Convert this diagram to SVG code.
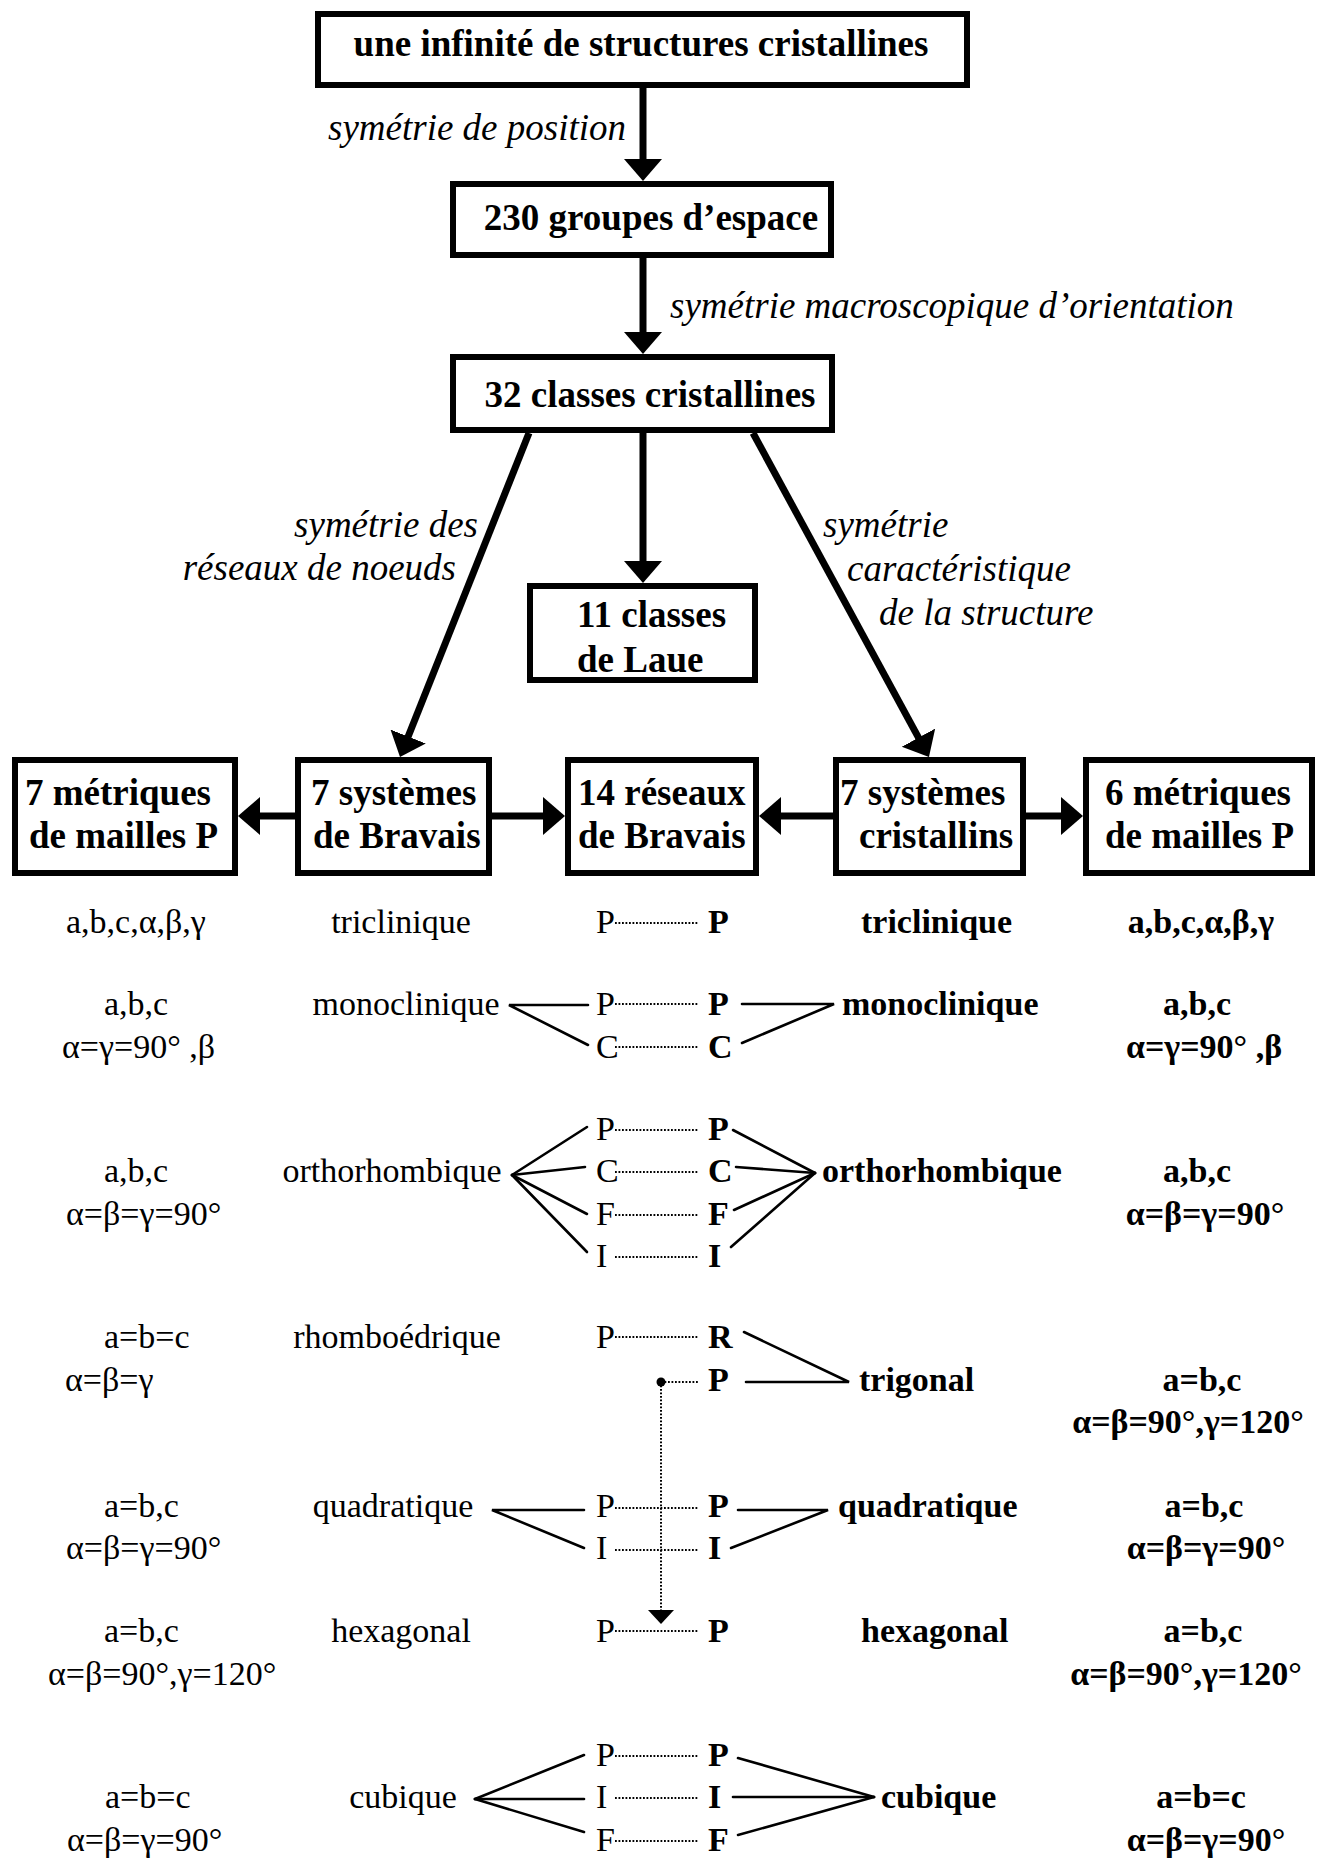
<svg xmlns="http://www.w3.org/2000/svg" width="1318" height="1861" viewBox="0 0 1318 1861">
<style>
text{font-family:"Liberation Serif","Times New Roman",serif;fill:#000}
.bx{fill:#fff;stroke:#000;stroke-width:6}
.bt{font-size:37px;font-weight:bold}
.lb{font-size:37px;font-style:italic}
.r{font-size:34px}
.b{font-size:34px;font-weight:bold}
.sh{stroke:#000;stroke-width:7;fill:none}
.tl{stroke:#000;stroke-width:2.6;fill:none;stroke-linecap:round}
.dt{stroke:#000;stroke-width:2;fill:none;stroke-dasharray:1.8 1.7}
</style>
<defs>
<marker id="ah" markerUnits="userSpaceOnUse" markerWidth="24" markerHeight="40" refX="12" refY="19" orient="auto">
<path d="M0,0 L22,19 L0,38 z" fill="#000"/>
</marker>
</defs>
<rect width="1318" height="1861" fill="#fff"/>

<g id="connectors">
<line class="sh" x1="643" y1="87" x2="643" y2="171" marker-end="url(#ah)"/>
<line class="sh" x1="643" y1="258" x2="643" y2="344" marker-end="url(#ah)"/>
<line class="sh" x1="643" y1="433" x2="643" y2="573" marker-end="url(#ah)"/>
<line class="sh" x1="529" y1="433" x2="403.7" y2="747.7" marker-end="url(#ah)"/>
<line class="sh" x1="753" y1="433" x2="924.2" y2="748.2" marker-end="url(#ah)"/>
<line class="sh" x1="295" y1="816" x2="248" y2="816" marker-end="url(#ah)"/>
<line class="sh" x1="492" y1="816" x2="555" y2="816" marker-end="url(#ah)"/>
<line class="sh" x1="833" y1="816" x2="769" y2="816" marker-end="url(#ah)"/>
<line class="sh" x1="1026" y1="816" x2="1073" y2="816" marker-end="url(#ah)"/>

<!-- monoclinique -->
<polyline class="tl" points="588,1005 509,1005 588,1045"/>
<polyline class="tl" points="742,1004 834,1004 742,1043"/>
<!-- orthorhombique -->
<line class="tl" x1="512" y1="1175" x2="587" y2="1127"/>
<line class="tl" x1="512" y1="1175" x2="585" y2="1167"/>
<line class="tl" x1="512" y1="1175" x2="587" y2="1214"/>
<line class="tl" x1="512" y1="1175" x2="587" y2="1252"/>
<line class="tl" x1="815" y1="1173" x2="733" y2="1130"/>
<line class="tl" x1="815" y1="1173" x2="736" y2="1167"/>
<line class="tl" x1="815" y1="1173" x2="734" y2="1210"/>
<line class="tl" x1="815" y1="1173" x2="731" y2="1247"/>
<!-- trigonal -->
<polyline class="tl" points="744,1332 849,1382 746,1382"/>
<!-- quadratique -->
<polyline class="tl" points="584,1510 492,1510 584,1548"/>
<polyline class="tl" points="738,1510 828,1510 731,1548"/>
<!-- cubique -->
<line class="tl" x1="475" y1="1799" x2="584" y2="1755"/>
<line class="tl" x1="475" y1="1799" x2="584" y2="1799"/>
<line class="tl" x1="475" y1="1799" x2="584" y2="1832"/>
<line class="tl" x1="874" y1="1797" x2="738" y2="1758"/>
<line class="tl" x1="874" y1="1797" x2="733" y2="1797"/>
<line class="tl" x1="874" y1="1797" x2="738" y2="1835"/>

<!-- dotted correspondences -->
<line class="dt" x1="615" y1="923" x2="698" y2="923"/>
<line class="dt" x1="615" y1="1004" x2="698" y2="1004"/>
<line class="dt" x1="615" y1="1047" x2="698" y2="1047"/>
<line class="dt" x1="615" y1="1130" x2="698" y2="1130"/>
<line class="dt" x1="615" y1="1172" x2="698" y2="1172"/>
<line class="dt" x1="615" y1="1215" x2="698" y2="1215"/>
<line class="dt" x1="615" y1="1257" x2="698" y2="1257"/>
<line class="dt" x1="615" y1="1337" x2="698" y2="1337"/>
<line class="dt" x1="661" y1="1382" x2="698" y2="1382"/>
<line class="dt" x1="615" y1="1508" x2="698" y2="1508"/>
<line class="dt" x1="615" y1="1550" x2="698" y2="1550"/>
<line class="dt" x1="615" y1="1631" x2="698" y2="1631"/>
<line class="dt" x1="615" y1="1756" x2="698" y2="1756"/>
<line class="dt" x1="615" y1="1798" x2="698" y2="1798"/>
<line class="dt" x1="615" y1="1841" x2="698" y2="1841"/>
<line class="dt" x1="661" y1="1382" x2="661" y2="1611"/>
<circle cx="661" cy="1382" r="4.5" fill="#000"/>
<polygon points="648,1610 674,1610 661,1624" fill="#000"/>
</g>

<g id="labels">
<text class="lb" x="626" y="140" text-anchor="end">symétrie de position</text>
<text class="lb" x="670" y="318">symétrie macroscopique d’orientation</text>
<text class="lb" x="478" y="537" text-anchor="end">symétrie des</text>
<text class="lb" x="456" y="580" text-anchor="end">réseaux de noeuds</text>
<text class="lb" x="823" y="537">symétrie</text>
<text class="lb" x="847" y="581">caractéristique</text>
<text class="lb" x="879" y="625">de la structure</text>
</g>

<g id="n-infinite"><rect class="bx" x="318" y="14" width="649" height="71"/><text class="bt" x="641" y="56" text-anchor="middle">une infinité de structures cristallines</text></g>
<g id="n-230"><rect class="bx" x="453" y="184" width="378" height="71"/><text class="bt" x="651" y="230" text-anchor="middle">230 groupes d’espace</text></g>
<g id="n-32"><rect class="bx" x="453" y="357" width="379" height="73"/><text class="bt" x="650" y="407" text-anchor="middle">32 classes cristallines</text></g>
<g id="n-laue"><rect class="bx" x="530" y="586" width="225" height="94"/><text class="bt" x="577" y="627">11 classes</text><text class="bt" x="577" y="672">de Laue</text></g>
<g id="n-metP7"><rect class="bx" x="15" y="760" width="220" height="113"/><text class="bt" x="25" y="805">7 métriques</text><text class="bt" x="29" y="848">de mailles P</text></g>
<g id="n-sysBravais"><rect class="bx" x="298" y="760" width="191" height="113"/><text class="bt" x="311" y="805">7 systèmes</text><text class="bt" x="313" y="848">de Bravais</text></g>
<g id="n-reseaux"><rect class="bx" x="568" y="760" width="188" height="113"/><text class="bt" x="578" y="805">14 réseaux</text><text class="bt" x="578" y="848">de Bravais</text></g>
<g id="n-sysCrist"><rect class="bx" x="836" y="760" width="187" height="113"/><text class="bt" x="840" y="805">7 systèmes</text><text class="bt" x="859" y="848">cristallins</text></g>
<g id="n-metP6"><rect class="bx" x="1086" y="760" width="226" height="113"/><text class="bt" x="1105" y="805">6 métriques</text><text class="bt" x="1105" y="848">de mailles P</text></g>

<g id="col-metrics7">
<text class="r" x="66" y="933">a,b,c,α,β,γ</text>
<text class="r" x="104" y="1015">a,b,c</text>
<text class="r" x="62" y="1058">α=γ=90° ,β</text>
<text class="r" x="104" y="1182">a,b,c</text>
<text class="r" x="66" y="1225">α=β=γ=90°</text>
<text class="r" x="104" y="1348">a=b=c</text>
<text class="r" x="65" y="1391">α=β=γ</text>
<text class="r" x="104" y="1517">a=b,c</text>
<text class="r" x="66" y="1559">α=β=γ=90°</text>
<text class="r" x="104" y="1642">a=b,c</text>
<text class="r" x="48" y="1685">α=β=90°,γ=120°</text>
<text class="r" x="105" y="1808">a=b=c</text>
<text class="r" x="67" y="1851">α=β=γ=90°</text>
</g>

<g id="col-bravais-systems">
<text class="r" x="401" y="933" text-anchor="middle">triclinique</text>
<text class="r" x="406" y="1015" text-anchor="middle">monoclinique</text>
<text class="r" x="392" y="1182" text-anchor="middle">orthorhombique</text>
<text class="r" x="397" y="1348" text-anchor="middle">rhomboédrique</text>
<text class="r" x="393" y="1517" text-anchor="middle">quadratique</text>
<text class="r" x="401" y="1642" text-anchor="middle">hexagonal</text>
<text class="r" x="403" y="1808" text-anchor="middle">cubique</text>
</g>

<g id="col-lattices-left">
<text class="r" x="596" y="933">P</text>
<text class="r" x="596" y="1015">P</text>
<text class="r" x="596" y="1058">C</text>
<text class="r" x="596" y="1140">P</text>
<text class="r" x="596" y="1182">C</text>
<text class="r" x="596" y="1225">F</text>
<text class="r" x="596" y="1267">I</text>
<text class="r" x="596" y="1348">P</text>
<text class="r" x="596" y="1517">P</text>
<text class="r" x="596" y="1559">I</text>
<text class="r" x="596" y="1642">P</text>
<text class="r" x="596" y="1766">P</text>
<text class="r" x="596" y="1808">I</text>
<text class="r" x="596" y="1851">F</text>
</g>

<g id="col-lattices-right">
<text class="b" x="708" y="933">P</text>
<text class="b" x="708" y="1015">P</text>
<text class="b" x="708" y="1058">C</text>
<text class="b" x="708" y="1140">P</text>
<text class="b" x="708" y="1182">C</text>
<text class="b" x="708" y="1225">F</text>
<text class="b" x="708" y="1267">I</text>
<text class="b" x="708" y="1348">R</text>
<text class="b" x="708" y="1391">P</text>
<text class="b" x="708" y="1517">P</text>
<text class="b" x="708" y="1559">I</text>
<text class="b" x="708" y="1642">P</text>
<text class="b" x="708" y="1766">P</text>
<text class="b" x="708" y="1808">I</text>
<text class="b" x="708" y="1851">F</text>
</g>

<g id="col-crystal-systems">
<text class="b" x="861" y="933">triclinique</text>
<text class="b" x="842" y="1015">monoclinique</text>
<text class="b" x="822" y="1182">orthorhombique</text>
<text class="b" x="859" y="1391">trigonal</text>
<text class="b" x="838" y="1517">quadratique</text>
<text class="b" x="861" y="1642">hexagonal</text>
<text class="b" x="881" y="1808">cubique</text>
</g>

<g id="col-metrics6">
<text class="b" x="1201" y="933" text-anchor="middle">a,b,c,α,β,γ</text>
<text class="b" x="1197" y="1015" text-anchor="middle">a,b,c</text>
<text class="b" x="1204" y="1058" text-anchor="middle">α=γ=90° ,β</text>
<text class="b" x="1197" y="1182" text-anchor="middle">a,b,c</text>
<text class="b" x="1205" y="1225" text-anchor="middle">α=β=γ=90°</text>
<text class="b" x="1202" y="1391" text-anchor="middle">a=b,c</text>
<text class="b" x="1188" y="1433" text-anchor="middle">α=β=90°,γ=120°</text>
<text class="b" x="1204" y="1517" text-anchor="middle">a=b,c</text>
<text class="b" x="1206" y="1559" text-anchor="middle">α=β=γ=90°</text>
<text class="b" x="1203" y="1642" text-anchor="middle">a=b,c</text>
<text class="b" x="1186" y="1685" text-anchor="middle">α=β=90°,γ=120°</text>
<text class="b" x="1201" y="1808" text-anchor="middle">a=b=c</text>
<text class="b" x="1206" y="1851" text-anchor="middle">α=β=γ=90°</text>
</g>
</svg>
